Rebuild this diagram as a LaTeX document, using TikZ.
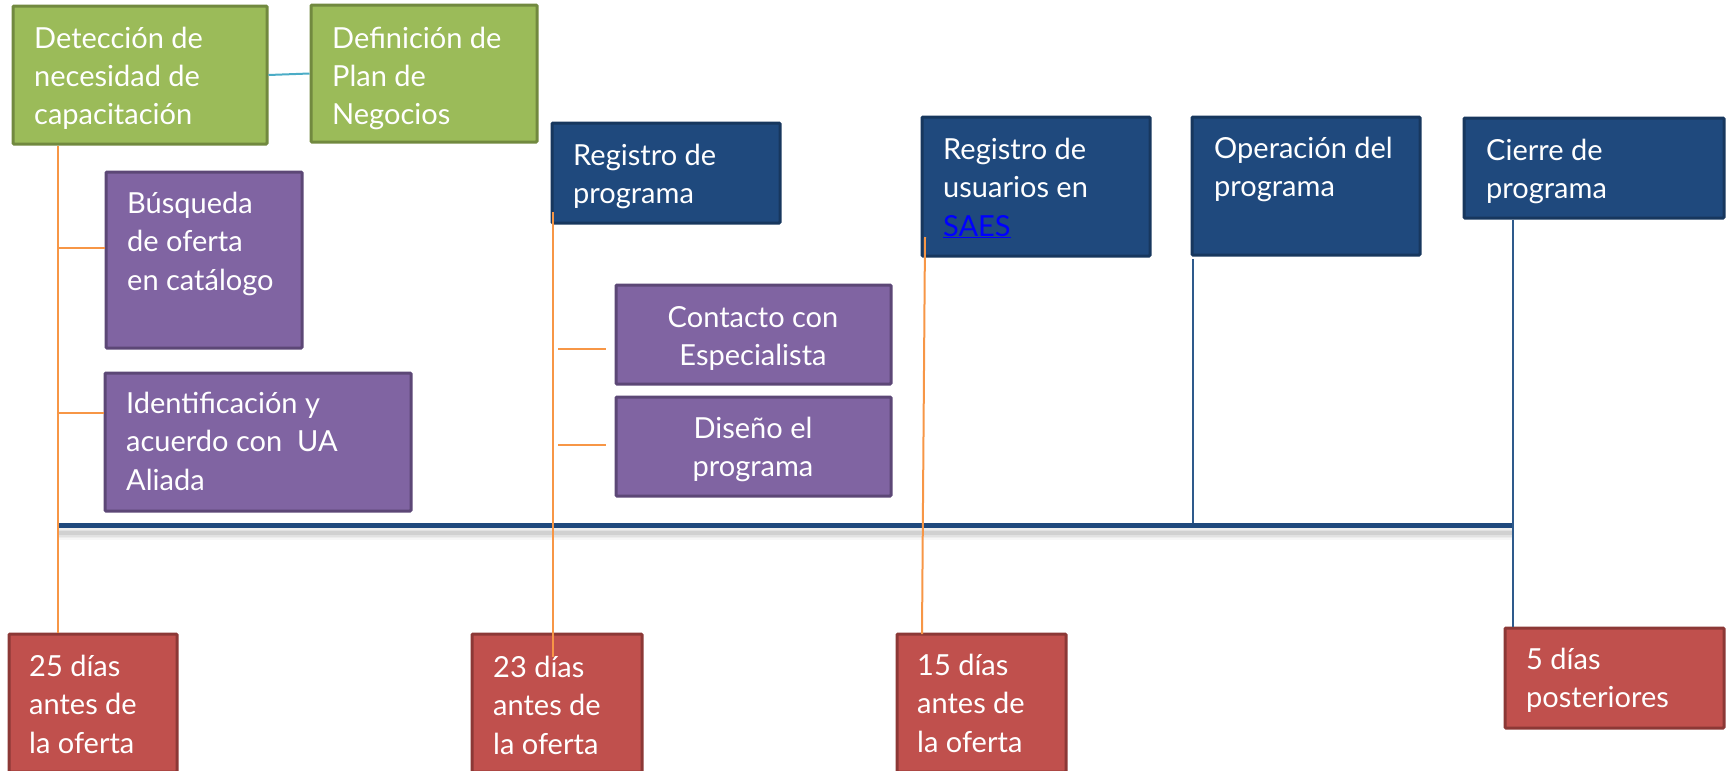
\documentclass[tikz,border=0pt]{standalone}
\usepackage{fontspec}
\setmainfont{Lato}
\usetikzlibrary{fit}
\definecolor{gfill}{HTML}{9BBB59}\definecolor{gline}{HTML}{71893F}
\definecolor{pfill}{HTML}{8064A2}\definecolor{pline}{HTML}{5C4776}
\definecolor{bfill}{HTML}{1F497D}\definecolor{bline}{HTML}{17375E}
\definecolor{rfill}{HTML}{C0504D}\definecolor{rline}{HTML}{8C3836}
\definecolor{orng}{HTML}{F79646}\definecolor{lblue}{HTML}{4BACC6}
\definecolor{tline}{HTML}{1F497D}\definecolor{vline}{HTML}{2E5A8C}
\definecolor{linkc}{HTML}{0000FF}
\newcommand{\lft}[1]{\parbox[t]{320pt}{\raggedright #1}}
\newcommand{\ctr}[1]{\parbox[t]{260pt}{\centering #1}}
\begin{document}
\begin{tikzpicture}[x=1pt,y=-1pt,
  box/.style={draw, line width=3pt, inner sep=0pt, rounded corners=1pt},
  gbox/.style={box, fill=gfill, draw=gline},
  pbox/.style={box, fill=pfill, draw=pline},
  bbox/.style={box, fill=bfill, draw=bline},
  rbox/.style={box, fill=rfill, draw=rline},
  txt/.style={text=white, anchor=base west, inner sep=0pt,
    font=\fontsize{29}{38.5}\selectfont},
  ctxt/.style={text=white, anchor=base, inner sep=0pt,
    font=\fontsize{29}{38.5}\selectfont},
  oline/.style={draw=orng, line width=2pt},
  bvline/.style={draw=vline, line width=2pt}]
\useasboundingbox (0,0) rectangle (1733,771);
% boxes
\node[gbox, fit={(13,6)(267,144)}] (g1) {};
\node[gbox, fit={(311,5)(537,142)}] (g2) {};
\node[pbox, fit={(106,172)(302,348)}] (p1) {};
\node[pbox, fit={(105,373)(411,511)}] (p2) {};
\node[bbox, fit={(552,123)(780,223)}] (b1) {};
\node[pbox, fit={(616,285)(891,384)}] (p3) {};
\node[pbox, fit={(616,397)(891,496)}] (p4) {};
\node[bbox, fit={(922,117)(1150,256)}] (b2) {};
\node[bbox, fit={(1192,117)(1420,255)}] (b3) {};
\node[bbox, fit={(1464,118)(1724,218)}] (b4) {};
\node[rbox, fit={(9,634)(177,772)}] (r1) {};
\node[rbox, fit={(472,634)(642,772)}] (r2) {};
\node[rbox, fit={(897,634)(1066,772)}] (r3) {};
\node[rbox, fit={(1505,628)(1724,728)}] (r4) {};
% texts
\node[txt] (tg1) at (34,48) {\lft{Detección de\\necesidad de\\capacitación}};
\node[txt] (tg2) at (332,48) {\lft{Definición de\\Plan de\\Negocios}};
\node[txt] (tp1) at (127,213) {\lft{Búsqueda\\de oferta\\en catálogo}};
\node[txt] (tp2) at (126,413) {\lft{Identificación y\\acuerdo con\ \ UA\\Aliada}};
\node[txt] (tb1) at (573,165) {\lft{Registro de\\programa}};
\node[ctxt] (tp3) at (753,327) {\ctr{Contacto con\\Especialista}};
\node[ctxt] (tp4) at (753,438) {\ctr{Diseño el\\programa}};
\node[txt] (tb2) at (943,159) {\lft{Registro de\\usuarios en\\\textcolor{linkc}{\underline{SAES}}}};
\node[txt] (tb3) at (1214,158) {\lft{Operación del\\programa}};
\node[txt] (tb4) at (1486,160) {\lft{Cierre de\\programa}};
\node[txt] (tr1) at (29,676) {\lft{25 días\\antes de\\la oferta}};
\node[txt] (tr2) at (493,677) {\lft{23 días\\antes de\\la oferta}};
\node[txt] (tr3) at (917,675) {\lft{15 días\\antes de\\la oferta}};
\node[txt] (tr4) at (1526,669) {\lft{5 días\\posteriores}};
% timeline with shadow
\coordinate (t0) at (58,525);
\coordinate (t1) at (1513,525);
\foreach \d/\o in {4/0.07,7/0.05,10/0.04,13/0.03}
  \draw[line width=\d pt, draw=black, opacity=\o] ([yshift=-8pt]t0) -- ([yshift=-8pt]t1);
\draw[line width=5pt, draw=tline] (t0) -- (t1);
% connectors
\draw[draw=lblue, line width=2pt] (g1.east) -- (g2.west);
\draw[oline] (g1.south -| t0) -- (r1.north -| t0);
\coordinate (k1) at (58,248);
\coordinate (k2) at (58,413);
\draw[oline] (k1) -- (k1 -| p1.west);
\draw[oline] (k2) -- (k2 -| p2.west);
\coordinate (o2a) at (553,212);
\coordinate (o2b) at (553,657);
\draw[oline] (o2a) -- (o2b);
\coordinate (k3) at (558,349);
\coordinate (k4) at (558,445);
\draw[oline] (k3) -- ([xshift=-9pt]k3 -| p3.west);
\draw[oline] (k4) -- ([xshift=-9pt]k4 -| p4.west);
\coordinate (o3a) at (925,237);
\draw[oline] (o3a) -- (922,634);
\coordinate (v1a) at (1193,259);
\draw[bvline] (v1a) -- (1193,523);
\draw[bvline] (b4.south -| t1) -- (r4.north -| t1);
\end{tikzpicture}
\end{document}
